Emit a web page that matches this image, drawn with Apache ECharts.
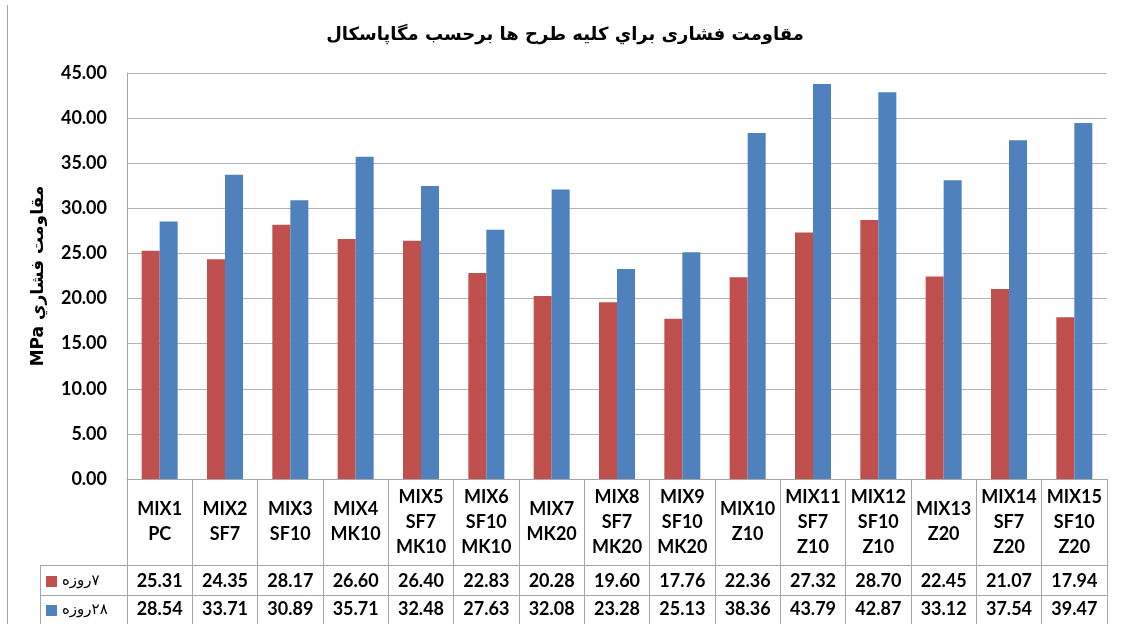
<!DOCTYPE html>
<html>
<head>
<meta charset="utf-8">
<script src="https://cdn.jsdelivr.net/npm/echarts@6/dist/echarts.min.js"></script>
<style>
  html, body { margin: 0; padding: 0; background: #fff; }
  #chart { width: 1129px; height: 624px; }
</style>
</head>
<body>
<div id="chart"></div>
<script>
// داده ها
const categories = [
  "MIX1\nPC", "MIX2\nSF7", "MIX3\nSF10", "MIX4\nMK10", "MIX5\nSF7\nMK10",
  "MIX6\nSF10\nMK10", "MIX7\nMK20", "MIX8\nSF7\nMK20", "MIX9\nSF10\nMK20", "MIX10\nZ10",
  "MIX11\nSF7\nZ10", "MIX12\nSF10\nZ10", "MIX13\nZ20", "MIX14\nSF7\nZ20", "MIX15\nSF10\nZ20"
];
const seriesNames = ["۷روزه", "۲۸روزه"];
const day7 = [25.31, 24.35, 28.17, 26.60, 26.40, 22.83, 20.28, 19.60, 17.76, 22.36, 27.32, 28.70, 22.45, 21.07, 17.94];
const day28 = [28.54, 33.71, 30.89, 35.71, 32.48, 27.63, 32.08, 23.28, 25.13, 38.36, 43.79, 42.87, 33.12, 37.54, 39.47];
const yMin = 0;
const yMax = 45;
const yStep = 5;

const chart = echarts.init(document.getElementById("chart"));

const latin = "Lato";
const arabic = "DejaVu Sans";
const lineColor = "#a6a6a6";

// grid geometry
const gLeft = 127, gRight = 22, gTop = 73, gBottom = 145;

// table row axis (value rows under the chart)
const rowAxis = (data, margin) => ({
  type: "category",
  data: data.map(v => v.toFixed(2)),
  position: "bottom",
  axisLine: { show: false },
  axisTick: { show: false },
  axisLabel: {
    interval: 0,
    margin: margin,
    verticalAlign: "middle",
    fontFamily: latin,
    fontWeight: "bold",
    fontSize: 18,
    color: "#000"
  }
});

// canvas draws left-to-right: move the leading Persian digits to the right of the word
const legendName = name => {
  const m = name.match(/^([۰-۹]+)(.*)$/);
  return m ? m[2] + "\u200E" + m[1] : name;
};

const option = {
  animation: false,
  title: {
    text: "مقاومت فشاری براي كليه طرح ها برحسب مگاپاسكال",
    left: 560,
    textAlign: "center",
    top: 21,
    textStyle: { fontFamily: arabic, fontWeight: "bold", fontSize: 18, color: "#000" }
  },
  legend: {
    orient: "vertical",
    left: 46,
    top: 573,
    height: 60,
    padding: 0,
    itemWidth: 11,
    itemHeight: 11,
    itemGap: 12,
    icon: "rect",
    formatter: legendName,
    textStyle: { fontFamily: arabic, fontSize: 15, lineHeight: 17, color: "#000" }
  },
  grid: { left: gLeft, right: gRight, top: gTop, bottom: gBottom, containLabel: false },
  xAxis: [
    {
      type: "category",
      data: categories,
      position: "bottom",
      axisLine: { show: true, lineStyle: { color: lineColor, width: 1 } },
      axisTick: { show: true, interval: 0, length: 146, lineStyle: { color: lineColor } },
      axisLabel: {
        interval: 0,
        margin: 43,
        verticalAlign: "middle",
        lineHeight: 25,
        fontFamily: latin,
        fontWeight: "bold",
        fontSize: 18,
        color: "#000"
      }
    },
    rowAxis(day7, 102),
    rowAxis(day28, 130)
  ],
  yAxis: {
    type: "value",
    min: yMin,
    max: yMax,
    interval: yStep,
    name: "MPa مقاومت فشاري",
    nameLocation: "middle",
    nameGap: 80,
    nameTextStyle: { fontFamily: arabic, fontWeight: "bold", fontSize: 17, color: "#000" },
    axisLine: { show: true, lineStyle: { color: lineColor } },
    axisTick: { show: false },
    splitLine: { lineStyle: { color: "#b3b3b3", width: 1 } },
    axisLabel: {
      margin: 20,
      formatter: v => v.toFixed(2),
      fontFamily: latin,
      fontWeight: "bold",
      fontSize: 18,
      color: "#000"
    }
  },
  series: [
    {
      name: seriesNames[0],
      type: "bar",
      data: day7,
      barWidth: 18,
      barGap: 0,
      itemStyle: { color: "#c0504d" }
    },
    {
      name: seriesNames[1],
      type: "bar",
      data: day28,
      barWidth: 18,
      barGap: 0,
      itemStyle: { color: "#4f81bd" }
    }
  ],
  graphic: [
    // chart frame on the left
    { type: "line", shape: { x1: 7.5, y1: 5, x2: 7.5, y2: 624 }, style: { stroke: lineColor } },
    // table horizontal lines
    { type: "line", shape: { x1: 40, y1: 565.5, x2: 1107, y2: 565.5 }, style: { stroke: lineColor } },
    { type: "line", shape: { x1: 40, y1: 595.5, x2: 1107, y2: 595.5 }, style: { stroke: lineColor } },
    { type: "line", shape: { x1: 40.5, y1: 565, x2: 40.5, y2: 624 }, style: { stroke: lineColor } }
  ]
};

chart.setOption(option);
</script>
</body>
</html>
